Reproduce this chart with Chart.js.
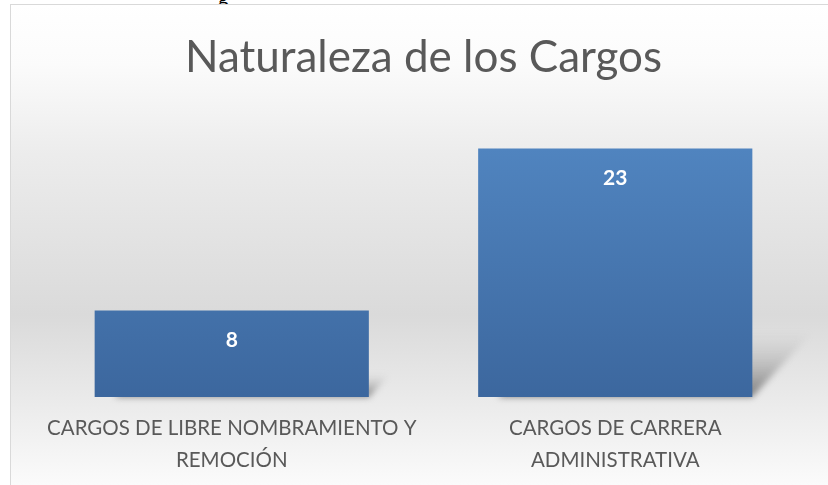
<!DOCTYPE html>
<html>
<head>
<meta charset="utf-8">
<script src="https://cdn.jsdelivr.net/npm/chart.js@4.4.0/dist/chart.umd.min.js"></script>
<style>
  html, body { margin: 0; padding: 0; background: #fff; overflow: hidden; }
  #cut { position: absolute; left: 218px; top: -15px; font: 20px Lato, sans-serif; color: #000; }
  #frame {
    position: absolute; left: 10px; top: 4px; width: 830px; height: 500px;
    border: 1px solid #d9d9d9;
    background: linear-gradient(to bottom, #ffffff 0%, #fbfbfb 12%, #ececec 30%, #dadada 62%, #f0f0f0 85%, #ffffff 100%);
  }
  #wrap { position: absolute; left: 11px; top: 5px; width: 817px; height: 480px; }
</style>
</head>
<body>
<div id="cut">g</div>
<div id="frame"></div>
<div id="wrap"><canvas id="myChart"></canvas></div>
<script>
// datos
let categories = [
    ['CARGOS DE LIBRE NOMBRAMIENTO Y', 'REMOCIÓN'],
    ['CARGOS DE CARRERA', 'ADMINISTRATIVA']
];
let values = [8, 23];
let yMax = 25;
let titleText = 'Naturaleza de los Cargos';

let textGray = '#595959';

// gradiente y sombra de cada barra
let barLook = {
    id: 'barLook',
    beforeDatasetsDraw: function (chart) {
        let ctx = chart.ctx;
        let meta = chart.getDatasetMeta(0);
        meta.data.forEach(function (bar) {
            let left = bar.x - bar.width / 2;
            let right = bar.x + bar.width / 2;
            let h = bar.base - bar.y;
            let sx = h * 0.24;
            let sy = h * 0.26;

            // sombra en perspectiva
            ctx.save();
            ctx.filter = 'blur(3px)';
            let sg = ctx.createLinearGradient(0, bar.base, 0, bar.base - sy);
            sg.addColorStop(0, 'rgba(110,110,110,0.9)');
            sg.addColorStop(0.6, 'rgba(150,150,150,0.35)');
            sg.addColorStop(1, 'rgba(170,170,170,0)');
            ctx.fillStyle = sg;
            ctx.beginPath();
            ctx.moveTo(left + 20, bar.base);
            ctx.lineTo(right, bar.base);
            ctx.lineTo(right + sx, bar.base - sy);
            ctx.lineTo(left + 20 + sx, bar.base - sy);
            ctx.closePath();
            ctx.fill();
            ctx.restore();

            let g = ctx.createLinearGradient(0, bar.y, 0, bar.base);
            g.addColorStop(0, '#5084bf');
            g.addColorStop(1, '#3c679e');
            bar.options.backgroundColor = g;
        });
    }
};

// etiquetas de valor dentro de la barra
let valueLabels = {
    id: 'valueLabels',
    afterDatasetsDraw: function (chart) {
        let ctx = chart.ctx;
        let meta = chart.getDatasetMeta(0);
        ctx.save();
        ctx.fillStyle = '#ffffff';
        ctx.font = 'bold 21px Lato, sans-serif';
        ctx.textAlign = 'center';
        ctx.textBaseline = 'middle';
        meta.data.forEach(function (bar, i) {
            ctx.fillText(String(values[i]), bar.x, bar.y + 30);
        });
        ctx.restore();
    }
};

let ctx = document.getElementById('myChart').getContext('2d');
let chart = new Chart(ctx, {
    type: 'bar',
    data: {
        labels: categories,
        datasets: [{
            data: values,
            backgroundColor: '#4a78b4',
            borderWidth: 0,
            categoryPercentage: 0.715,
            barPercentage: 1
        }]
    },
    options: {
        responsive: true,
        maintainAspectRatio: false,
        animation: false,
        events: [],
        layout: { padding: { left: 29, right: 21, top: 0, bottom: 0 } },
        plugins: {
            legend: { display: false },
            tooltip: { enabled: false },
            title: {
                display: true,
                text: titleText,
                color: textGray,
                font: { family: 'Lato, sans-serif', size: 44, weight: 'normal', lineHeight: 1.2 },
                padding: { top: 26, bottom: 43 }
            }
        },
        scales: {
            x: {
                grid: { display: false },
                border: { display: false },
                afterFit: function (scale) {
                    scale.height = 88;
                },
                ticks: {
                    color: textGray,
                    font: { family: 'Lato, sans-serif', size: 20.5, lineHeight: 1.58 },
                    padding: 7,
                    maxRotation: 0,
                    autoSkip: false
                }
            },
            y: {
                display: false,
                min: 0,
                max: yMax
            }
        }
    },
    plugins: [barLook, valueLabels]
});
</script>
</body>
</html>
